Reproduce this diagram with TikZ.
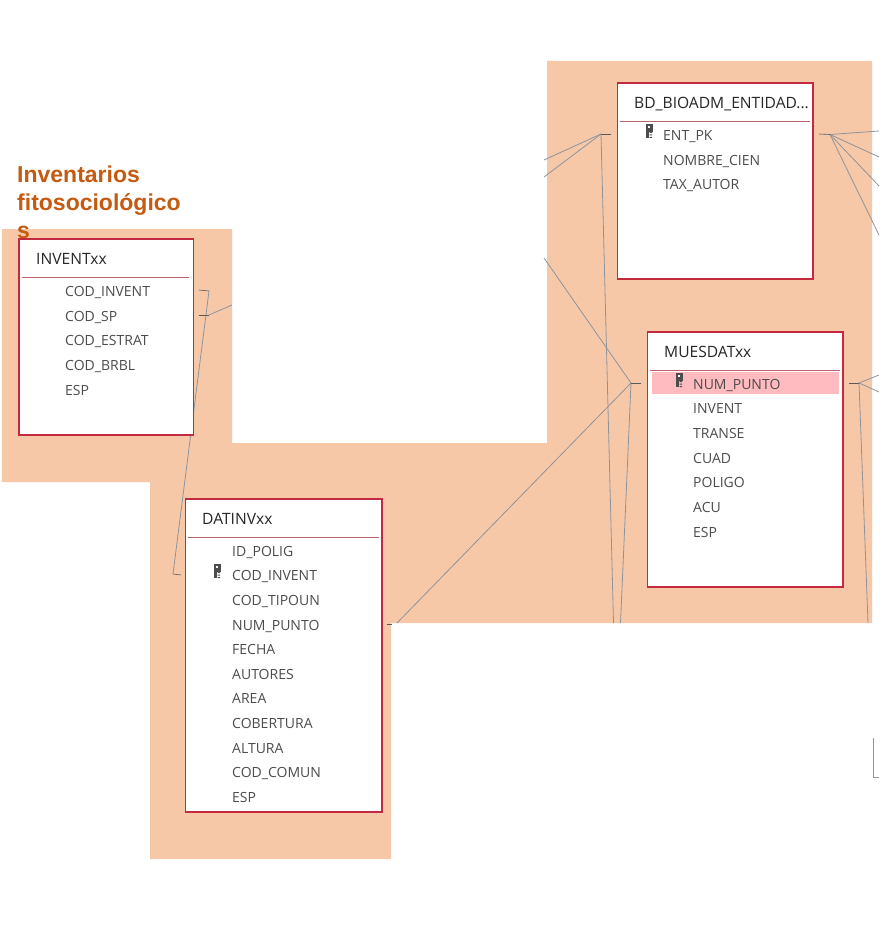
\documentclass[tikz,border=0pt]{standalone}
\usepackage{fontspec}
\setmainfont{Open Sans}
\newfontfamily\titulofont{Liberation Sans}
\usetikzlibrary{calc}
\definecolor{ColorFondo}{HTML}{F7C8A8}
\definecolor{ColorBorde}{HTML}{C42A3F}
\definecolor{ColorLinea}{HTML}{B9646A}
\definecolor{ColorTitulo}{HTML}{C55A11}
\definecolor{ColorFila}{HTML}{FFBBC0}
\definecolor{ColorRel}{HTML}{8F949C}
\tikzset{
  tabla/.style={draw=ColorBorde, fill=white, line width=1.6pt, inner sep=0pt, anchor=north west},
  cabecera/.style={anchor=base west, inner sep=0pt, text=black!85, font=\fontsize{15.6}{18}\selectfont},
  campo/.style={anchor=base west, inner sep=0pt, text=black!70, font=\fontsize{14}{17}\selectfont},
  rel/.style={draw=ColorRel, line width=0.8pt},
  tope/.style={draw=black!65, line width=0.6pt},
  llave/.pic={
    \fill[black!70] (-3.5,-7) rectangle (3.5,1);
    \fill[white] (-1.5,-5) rectangle (1,-3);
    \fill[black!70] (-3,1) rectangle (-0.5,7);
    \fill[black!70] (0.5,1) rectangle (3,2) (0.5,3.5) rectangle (3,4.5) (0.5,6) rectangle (3,7);
  }
}
\begin{document}
\begin{tikzpicture}[x=1pt,y=-1pt]
        \useasboundingbox (0,0) rectangle (879,952);
        %Fondo
        \fill[ColorFondo] (2,229)--(232,229)--(232,443)--(547,443)--(547,61)--(872,61)--(872,623)--(391,623)--(391,859)--(150,859)--(150,482)--(2,482)--cycle;
        %Titulo
        \node[anchor=north west, inner sep=0pt, align=left, text=ColorTitulo, font=\titulofont\bfseries\fontsize{23}{28}\selectfont] (titulo) at (17,166) {Inventarios\\fitosociol\'ogico\\s};
        %Puntos de las relaciones
        \coordinate (inA) at (199,290);
        \coordinate (inB) at (209,291);
        \coordinate (inC) at (199,315);
        \coordinate (inD) at (209,315);
        \coordinate (inE) at (232,305);
        \coordinate (daA) at (181,575);
        \coordinate (daB) at (173,574);
        \coordinate (daC) at (387,624);
        \coordinate (daD) at (392,624);
        \coordinate (daE) at (397,623);
        \coordinate (bdA) at (611,134);
        \coordinate (bdB) at (601,134);
        \coordinate (bdC) at (544,160);
        \coordinate (bdD) at (544,177);
        \coordinate (bdE) at (613.5,623);
        \coordinate (bdF) at (819,134);
        \coordinate (bdG) at (830,134.5);
        \coordinate (bdH) at (879,131);
        \coordinate (bdI) at (879,157);
        \coordinate (bdJ) at (879,186);
        \coordinate (bdK) at (879,235);
        \coordinate (muA) at (641,383);
        \coordinate (muB) at (631,383);
        \coordinate (muC) at (544,258);
        \coordinate (muD) at (620.5,623);
        \coordinate (muE) at (849,383);
        \coordinate (muF) at (859,383);
        \coordinate (muG) at (879,375);
        \coordinate (muH) at (879,392);
        \coordinate (muI) at (868,623);
        \coordinate (esA) at (873,738);
        \coordinate (esB) at (873,777);
        \coordinate (esC) at (879,777);
        %Relaciones
        \draw[rel] (inB)--(daB);
        \draw[rel] (inD)--(inE);
        \draw[rel] (bdB)--(bdC);
        \draw[rel] (bdB)--(bdD);
        \draw[rel] (bdB)--(bdE);
        \draw[rel] (bdG)--(bdH);
        \draw[rel] (bdG)--(bdI);
        \draw[rel] (bdG)--(bdJ);
        \draw[rel] (bdG)--(bdK);
        \draw[rel] (muB)--(muC);
        \draw[rel] (muB)--(muD);
        \draw[rel] (muB)--(daE);
        \draw[rel] (muF)--(muG);
        \draw[rel] (muF)--(muH);
        \draw[rel] (muF)--(muI);
        \draw[rel] (esA)--(esB)--(esC);
        \draw[tope] (inA)--(inB);
        \draw[tope] (inC)--(inD);
        \draw[tope] (daB)--(daA);
        \draw[tope] (daC)--(daD);
        \draw[tope] (bdB)--(bdA);
        \draw[tope] (bdF)--(bdG);
        \draw[tope] (muB)--(muA);
        \draw[tope] (muE)--(muF);
        %INVENTxx
        \node[tabla, minimum width=174.4pt, minimum height=196.4pt] (invent) at (18.2,238) {};
        \draw[ColorLinea] (22,277)--(189,277);
        \node[cabecera] (inventT) at (36,264) {INVENTxx};
        \node[campo] (inventA) at (65,296) {COD\_INVENT};
        \node[campo] (inventB) at (65,321) {COD\_SP};
        \node[campo] (inventC) at (65,345) {COD\_ESTRAT};
        \node[campo] (inventD) at (65,370) {COD\_BRBL};
        \node[campo] (inventE) at (65,395) {ESP};
        %BD_BIOADM
        \node[tabla, minimum width=195.4pt, minimum height=196.4pt] (bioadm) at (616.8,82) {};
        \draw[ColorLinea] (620,121)--(810,121);
        \node[cabecera] (bioadmT) at (634,108.5) {BD\_BIOADM\_ENTIDAD...};
        \pic at (649,131) {llave};
        \node[campo] (bioadmA) at (663,140.5) {ENT\_PK};
        \node[campo] (bioadmB) at (663,165) {NOMBRE\_CIEN};
        \node[campo] (bioadmC) at (663,189.5) {TAX\_AUTOR};
        %MUESDATxx
        \node[tabla, minimum width=195.4pt, minimum height=255.4pt] (muesdat) at (646.8,331) {};
        \draw[ColorLinea] (650,370.5)--(840,370.5);
        \fill[ColorFila] (652,372) rectangle (839,394);
        \node[cabecera] (muesdatT) at (664,357.5) {MUESDATxx};
        \pic at (679,380) {llave};
        \node[campo] (muesdatA) at (693,389) {NUM\_PUNTO};
        \node[campo] (muesdatB) at (693,413.5) {INVENT};
        \node[campo] (muesdatC) at (693,438) {TRANSE};
        \node[campo] (muesdatD) at (693,463) {CUAD};
        \node[campo] (muesdatE) at (693,487.5) {POLIGO};
        \node[campo] (muesdatF) at (693,512) {ACU};
        \node[campo] (muesdatG) at (693,537) {ESP};
        %DATINVxx
        \node[tabla, minimum width=196.4pt, minimum height=313.4pt] (datinv) at (184.8,498) {};
        \draw[ColorLinea] (188,537)--(379,537);
        \node[cabecera] (datinvT) at (202,524.5) {DATINVxx};
        \pic at (217,571) {llave};
        \node[campo] (datinvA) at (232,556) {ID\_POLIG};
        \node[campo] (datinvB) at (232,580.5) {COD\_INVENT};
        \node[campo] (datinvC) at (232,605) {COD\_TIPOUN};
        \node[campo] (datinvD) at (232,630) {NUM\_PUNTO};
        \node[campo] (datinvE) at (232,654.5) {FECHA};
        \node[campo] (datinvF) at (232,679) {AUTORES};
        \node[campo] (datinvG) at (232,703.5) {AREA};
        \node[campo] (datinvH) at (232,728) {COBERTURA};
        \node[campo] (datinvI) at (232,753) {ALTURA};
        \node[campo] (datinvJ) at (232,777.5) {COD\_COMUN};
        \node[campo] (datinvK) at (232,802) {ESP};
    \end{tikzpicture}
\end{document}
